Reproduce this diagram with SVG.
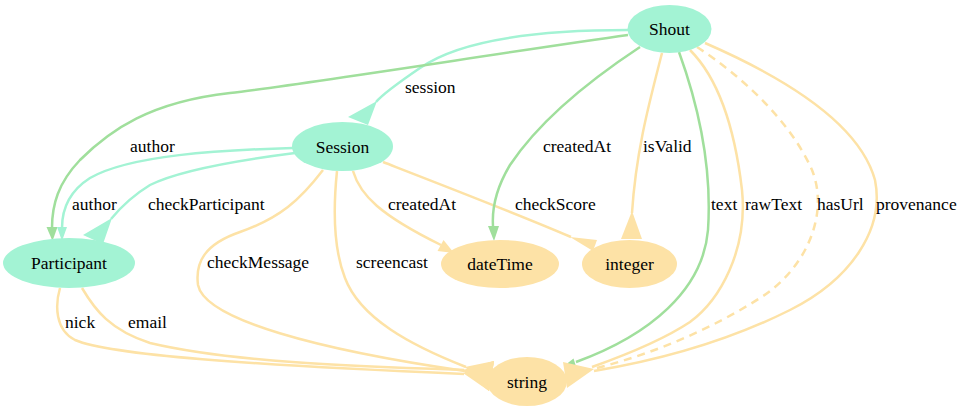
<svg xmlns="http://www.w3.org/2000/svg" width="965" height="411" viewBox="0 0 965 411" font-family="Liberation Serif, Times New Roman, Times, serif">
<style>
  .bg{fill:#ffffff}
  .nt{fill:#a3f3d4;stroke:none}
  .no{fill:#fde2a6;stroke:none}
  text{font-family:'Liberation Serif','Times New Roman',Times,serif;font-size:17.5px;fill:#000}
  .nl{text-anchor:middle}
  .e{fill:none;stroke-width:2.5}
  .et{stroke:#a3f3d4}
  .eg{stroke:#a0df9c}
  .eo{stroke:#fde2a6}
  .dash{stroke-dasharray:8,6}
  .at{fill:#a3f3d4}
  .ag{fill:#a0df9c}
  .ao{fill:#fde2a6}
</style>
<rect class="bg" x="0" y="0" width="965" height="411"/>

<g id="connectors">
  <!-- Shout -> Session : session -->
  <path class="e et" d="M628,30 C540,30 460,40 420,68 C395,85 382,95 376,102"/>
  <polygon class="at" points="377,101 348,117 368,125"/>
  <text x="405" y="93">session</text>

  <!-- Shout -> Participant : author -->
  <path class="e eg" d="M628,35 C520,50 300,85 230,93 C150,102 110,130 80,160 C58,183 52,205 52,228"/>
  <polygon class="ag" points="46.5,227 57.5,227 52.5,241"/>
  <text x="130" y="152">author</text>

  <!-- Session -> Participant : author -->
  <path class="e et" d="M293,148 C220,150 130,155 90,178 C68,192 62,210 62,228"/>
  <polygon class="at" points="57,227 67,227 62,241"/>
  <text x="72" y="210">author</text>

  <!-- Session -> Participant : checkParticipant -->
  <path class="e et" d="M295,153 C240,160 180,170 150,185 C132,196 120,208 111,219"/>
  <polygon class="at" points="112,218 83,235 103,244"/>
  <text x="148" y="210">checkParticipant</text>

  <!-- Session -> string : checkMessage -->
  <path class="e eo" d="M323,170 C300,200 280,218 240,232 C205,244 195,262 198,285 C205,320 320,350 465,371"/>
  <polygon class="ao" points="464,371 494,361 489,391"/>
  <text x="207" y="268">checkMessage</text>

  <!-- Session -> string : screencast -->
  <path class="e eo" d="M337,171 C333,210 334,250 345,278 C360,318 410,345 466,367"/>
  <polygon class="ao" points="465,367 494,361 489,391"/>
  <text x="356" y="268">screencast</text>

  <!-- Session -> dateTime : createdAt -->
  <path class="e eo" d="M353,171 C360,195 380,215 441,245"/>
  <polygon class="ao" points="437.5,251 443.5,240 454,253"/>
  <text x="388" y="210">createdAt</text>

  <!-- Session -> integer : checkScore -->
  <path class="e eo" d="M383,162 C450,188 520,215 571,237"/>
  <polygon class="ao" points="570,237 597,240 593,251"/>
  <text x="515" y="210">checkScore</text>

  <!-- Shout -> dateTime : createdAt -->
  <path class="e eg" d="M640,47 C590,80 540,120 510,165 C495,190 492,210 493,226"/>
  <polygon class="ag" points="488,226 499,226 494,241"/>
  <text x="543" y="152">createdAt</text>

  <!-- Shout -> integer : isValid -->
  <path class="e eo" d="M662,53 C650,100 636,150 632,213"/>
  <polygon class="ao" points="632,211 621,239 642,239"/>
  <text x="643" y="152">isValid</text>

  <!-- Shout -> string : text -->
  <path class="e eg" d="M679,52 C700,110 712,170 708,230 C703,290 650,335 576,362"/>
  <polygon class="ag" points="576,366.5 573.5,358.5 564,366"/>
  <text x="711" y="210">text</text>

  <!-- Shout -> string : rawText -->
  <path class="e eo" d="M690,50 C720,80 735,130 742,190 C748,250 720,300 690,322 C660,342 620,357 592,367"/>
  <text x="745" y="210">rawText</text>

  <!-- Shout -> string : hasUrl -->
  <path class="e eo dash" d="M697,47 C740,75 790,120 812,170 C830,215 805,270 760,298 C710,330 650,355 593,369"/>
  <text x="817" y="210">hasUrl</text>

  <!-- Shout -> string : provenance -->
  <path class="e eo" d="M705,43 C790,80 860,125 875,180 C885,230 850,280 790,310 C730,340 660,360 594,371"/>
  <polygon class="ao" points="594,369 563,362 567,388"/>
  <text x="876" y="210">provenance</text>

  <!-- Participant -> string : nick -->
  <path class="e eo" d="M60,288 C55,305 55,330 75,340 C110,355 250,365 464,374"/>
  <polygon class="ao" points="463,373 494,361 489,391"/>
  <text x="65" y="328">nick</text>

  <!-- Participant -> string : email -->
  <path class="e eo" d="M82,288 C95,310 110,330 150,343 C230,362 350,366 464,370"/>
  <polygon class="ao" points="463,370 494,361 489,391"/>
  <text x="128" y="328">email</text>
</g>

<g id="node-Shout">
  <ellipse class="nt" cx="669.5" cy="29" rx="42" ry="24"/>
  <text class="nl" x="669.5" y="35">Shout</text>
</g>
<g id="node-Session">
  <ellipse class="nt" cx="342.5" cy="146.5" rx="50.5" ry="24.5"/>
  <text class="nl" x="342.5" y="152.5">Session</text>
</g>
<g id="node-Participant">
  <ellipse class="nt" cx="69" cy="263" rx="66" ry="25"/>
  <text class="nl" x="69" y="269">Participant</text>
</g>
<g id="node-dateTime">
  <ellipse class="no" cx="500" cy="264" rx="59" ry="24"/>
  <text class="nl" x="500" y="270">dateTime</text>
</g>
<g id="node-integer">
  <ellipse class="no" cx="629.5" cy="264" rx="47.5" ry="24"/>
  <text class="nl" x="629.5" y="270">integer</text>
</g>
<g id="node-string">
  <ellipse class="no" cx="527" cy="381.5" rx="40" ry="24.5"/>
  <text class="nl" x="527" y="387.5">string</text>
</g>
</svg>
